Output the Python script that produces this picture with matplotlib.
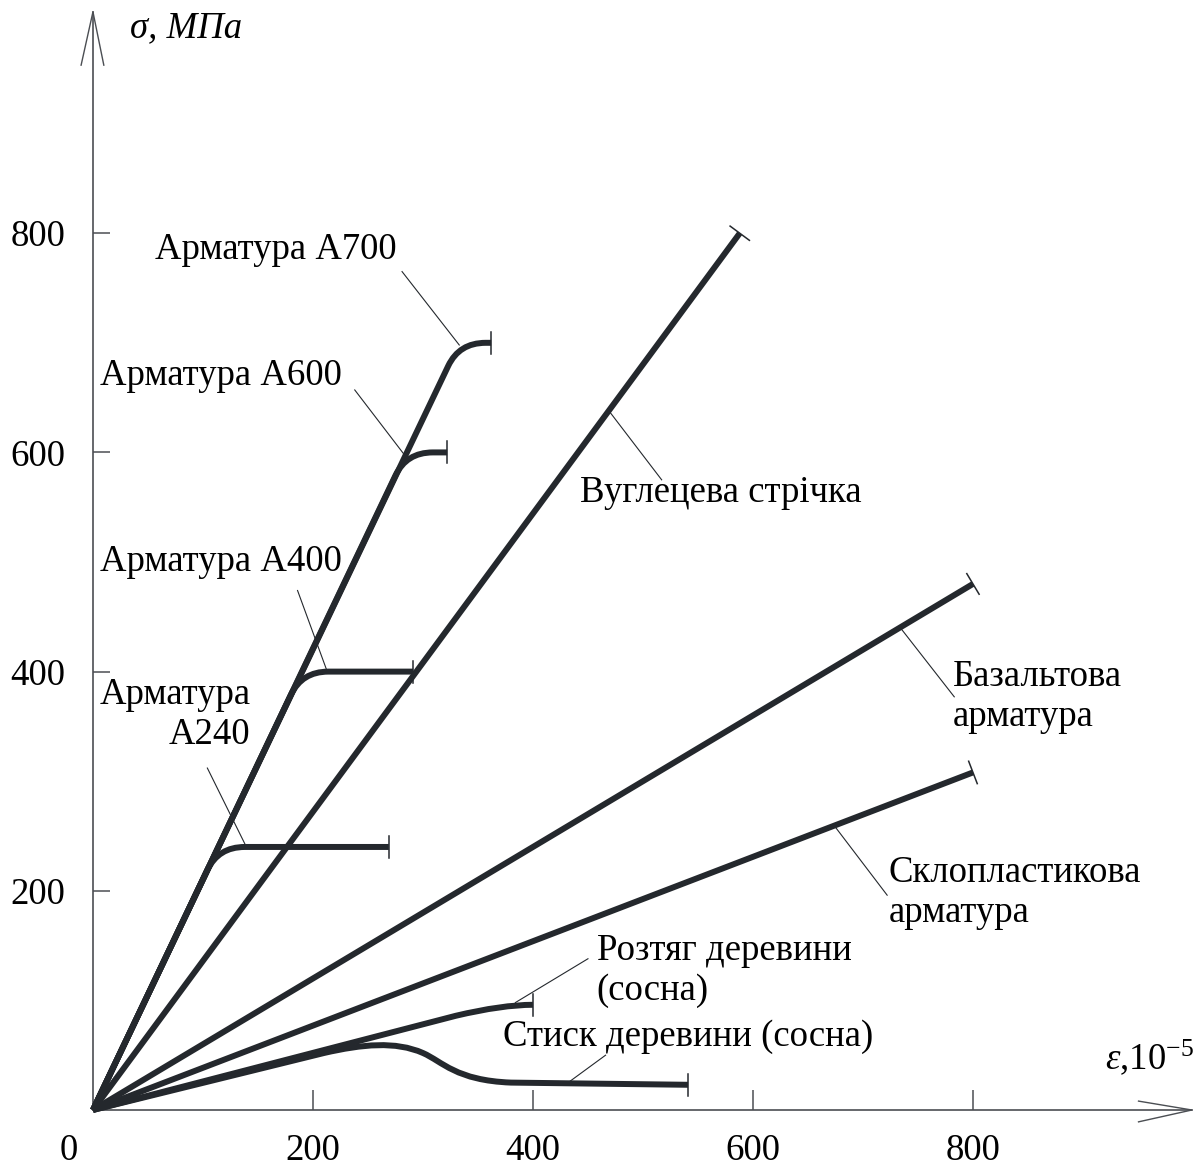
import matplotlib
matplotlib.use("Agg")
import numpy as np
import matplotlib.pyplot as plt
from matplotlib.path import Path
from matplotlib.patches import PathPatch

plt.rcParams['font.family'] = ['Liberation Serif', 'DejaVu Serif']
plt.rcParams['mathtext.fontset'] = 'custom'
plt.rcParams['mathtext.rm'] = 'Liberation Serif'
plt.rcParams['mathtext.it'] = 'Liberation Serif:italic'

# Strain in 1e-5, stress in MPa
x_ticks = [200, 400, 600, 800]
y_ticks = [200, 400, 600, 800]

# Steel rebar: yield stress, strain at the yield corner, ultimate strain
steel_labels = ['Арматура\nА240', 'Арматура А400', 'Арматура А600', 'Арматура А700']
steel_fy = [240, 400, 600, 700]
steel_eps_y = [114, 190, 285, 333]
steel_eps_u = [269, 291, 322, 362]

# Linear-elastic composites: ultimate strain and stress
frp_labels = ['Вуглецева стрічка', 'Базальтова\nарматура', 'Склопластикова\nарматура']
frp_eps_u = [588, 800, 800]
frp_sig_u = [800, 480, 308]

# Pine wood in tension (shape points of the curve)
wood_t_eps = [0, 330, 372, 400]
wood_t_sig = [0, 86, 96, 96]

# Pine wood in compression (shape points of the curve)
wood_c_eps = [0, 210, 245, 275, 300, 318, 330, 380, 541]
wood_c_sig = [0, 52, 60, 63, 52, 44, 27, 25, 23]

INK = '#24282d'
AX = '#4b4e53'
LW = 4.3
FS = 26.5

fig = plt.figure(figsize=(12, 11.66), dpi=100)
ax = fig.add_axes([0, 0, 1, 1])
ax.set_xlim(-84.5, 1006.4)
ax.set_ylim(-51.1, 1012.8)
ax.set_facecolor('white')

for s in ['top', 'right']:
    ax.spines[s].set_visible(False)
ax.spines['left'].set_position(('data', 0))
ax.spines['bottom'].set_position(('data', 0))
ax.spines['left'].set_bounds(0, 1002)
ax.spines['bottom'].set_bounds(0, 999)
for s in ['left', 'bottom']:
    ax.spines[s].set_color(AX)
    ax.spines[s].set_linewidth(1.2)

ax.set_xticks(x_ticks)
ax.set_yticks(y_ticks)
ax.tick_params(axis='x', direction='in', length=14.5, width=1.1, color=AX,
               labelsize=FS, pad=17)
ax.tick_params(axis='y', direction='in', length=12, width=1.1, color=AX,
               labelsize=FS, pad=20)
ax.text(-22, -37, '0', fontsize=FS, ha='center', va='center')


def to_disp(x, y):
    return ax.transData.transform((x, y))


def to_data(p):
    return ax.transData.inverted().transform(p)


def px_seg(x, y, pts, **kw):
    """Draw a polyline given as pixel offsets from a data point."""
    p0 = to_disp(x, y)
    dd = [to_data(p0 + np.array(q)) for q in pts]
    ax.plot([d[0] for d in dd], [d[1] for d in dd], solid_capstyle='butt', **kw)


def end_tick(x, y, dx, dy, half=11):
    p = to_disp(x, y)
    q = to_disp(x + dx, y + dy)
    t = (q - p) / np.hypot(*(q - p))
    n = np.array([-t[1], t[0]])
    a, b = to_data(p + n * half), to_data(p - n * half)
    ax.plot([a[0], b[0]], [a[1], b[1]], color=INK, lw=1.1, zorder=4)


# axis arrowheads (open V)
px_seg(0, 1002, [(-12, -54), (0, 0), (11, -54)], color=AX, lw=1.0)
px_seg(999, 0, [(-54, 9), (0, 0), (-54, -12)], color=AX, lw=1.0)

# composites
for eu, su in zip(frp_eps_u, frp_sig_u):
    ax.plot([0, eu], [0, su], color=INK, lw=LW, solid_capstyle='butt', zorder=3)
    end_tick(eu, su, eu, su, half=12)

# steel
for fy, ey, eu in zip(steel_fy, steel_eps_y, steel_eps_u):
    E = fy / ey
    d, h = 10, 24
    verts = [(0, 0), (ey - d, fy - E * d), (ey, fy), (ey + h, fy), (eu, fy)]
    codes = [Path.MOVETO, Path.LINETO, Path.CURVE3, Path.CURVE3, Path.LINETO]
    ax.add_patch(PathPatch(Path(verts, codes), fill=False, edgecolor=INK,
                           lw=LW, capstyle='butt', joinstyle='round', zorder=3))
    end_tick(eu, fy, 1, 0, half=11)

# wood in tension
verts = list(zip(wood_t_eps, wood_t_sig))
codes = [Path.MOVETO, Path.LINETO, Path.CURVE3, Path.CURVE3]
ax.add_patch(PathPatch(Path(verts, codes), fill=False, edgecolor=INK, lw=LW,
                       capstyle='butt', zorder=3))
end_tick(wood_t_eps[-1], wood_t_sig[-1], 1, 0, half=11)

# wood in compression
verts = list(zip(wood_c_eps, wood_c_sig))
codes = [Path.MOVETO, Path.LINETO, Path.CURVE4, Path.CURVE4, Path.CURVE4,
         Path.CURVE4, Path.CURVE4, Path.CURVE4, Path.LINETO]
ax.add_patch(PathPatch(Path(verts, codes), fill=False, edgecolor=INK, lw=LW,
                       capstyle='butt', zorder=3))
end_tick(wood_c_eps[-1], wood_c_sig[-1], 1, 0, half=11)

# labels with leader lines
labels = [
    (steel_labels[3], 56, 785, 'left', (281, 765), (333, 698)),
    (steel_labels[2], 6, 670, 'left', (238, 657), (283, 598)),
    (steel_labels[1], 6, 500, 'left', (186, 474), (213, 400)),
    (steel_labels[0], 143, 361, 'right', (104, 312), (139, 241)),
    (frp_labels[0], 443, 563, 'left', (517, 575), (469, 638)),
    (frp_labels[1], 782, 377, 'left', (783, 377), (734, 440)),
    (frp_labels[2], 723, 198, 'left', (722, 196), (675, 258)),
    ('Розтяг деревини\n(сосна)', 458, 127, 'left', (450, 138), (384, 98)),
    ('Стиск деревини (сосна)', 373, 67, 'left', (466, 50), (432, 25)),
]
for txt, tx, ty, ha, p1, p2 in labels:
    ax.text(tx, ty, txt, fontsize=FS, ha=ha, va='center', multialignment=ha,
            linespacing=1.2, zorder=5)
    ax.plot([p1[0], p2[0]], [p1[1], p2[1]], color=INK, lw=0.8, zorder=2)

ax.text(34, 987, 'σ, МПа', fontsize=FS, fontstyle='italic', ha='left', va='center')
ax.text(920, 48, r'$\mathit{\varepsilon}$,$10^{-5}$', fontsize=FS, ha='left',
        va='center')

fig.savefig('out.png', dpi=100, facecolor='white')
